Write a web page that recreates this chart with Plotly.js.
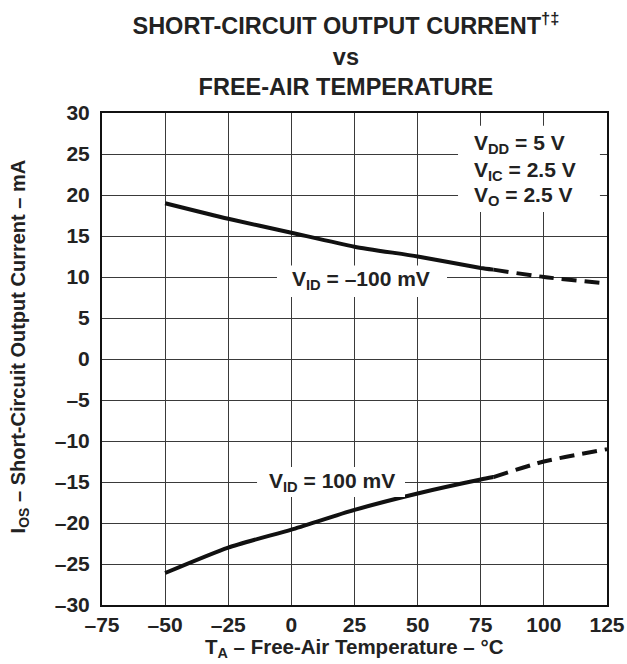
<!DOCTYPE html>
<html>
<head>
<meta charset="utf-8">
<script src="https://cdn.plot.ly/plotly-3.0.1.min.js"></script>
<style>html,body{margin:0;padding:0;background:#fff;}#chart{width:627px;height:664px;}</style>
</head>
<body>
<div id="chart"></div>
<script>
// Temperatures (°C)
var tempSolid = [-50, -25, 0, 25, 50, 75, 80];
var tempDashed = [80, 100, 125];
// I_OS (mA) for V_ID = -100 mV
var iosNegSolid = [19.0, 17.1, 15.4, 13.7, 12.5, 11.1, 10.9];
var iosNegDashed = [10.9, 10.0, 9.2];
// I_OS (mA) for V_ID = 100 mV
var iosPosSolid = [-26.1, -23.0, -20.8, -18.4, -16.4, -14.7, -14.4];
var iosPosDashed = [-14.4, -12.5, -11.0];

var xTickVals = [-75, -50, -25, 0, 25, 50, 75, 100, 125];
var xTickText = ['–75', '–50', '–25', '0', '25', '50', '75', '100', '125'];
var yTickVals = [-30, -25, -20, -15, -10, -5, 0, 5, 10, 15, 20, 25, 30];
var yTickText = ['–30', '–25', '–20', '–15', '–10', '–5', '0', '5', '10', '15', '20', '25', '30'];

var FONT = 'Liberation Sans, Arial, sans-serif';
var FS = 21;
function line(x, y, dash) {
  return {x: x, y: y, mode: 'lines', type: 'scatter', hoverinfo: 'skip',
    line: {color: '#111', width: 4, dash: dash, shape: 'spline', smoothing: 0.6}};
}
var data = [
  line(tempSolid, iosNegSolid, 'solid'),
  line(tempDashed, iosNegDashed, '15px,8px'),
  line(tempSolid, iosPosSolid, 'solid'),
  line(tempDashed, iosPosDashed, '15px,8px')
];

var axisCommon = {
  showgrid: true, gridcolor: '#3a3a3a', gridwidth: 1,
  showline: true, linecolor: '#111', linewidth: 2, mirror: true,
  zeroline: false, ticks: '', tickmode: 'array',
  tickfont: {family: FONT, size: FS, color: '#222', weight: 'bold'},
  fixedrange: true
};
function ann(text, x, y, xanchor, angle, size, yanchor) {
  return {text: text, xref: 'paper', yref: 'paper', x: x, y: y,
    xanchor: xanchor, yanchor: yanchor || 'middle', showarrow: false, textangle: angle || 0,
    font: {family: FONT, size: size || FS, color: '#222', weight: 'bold'}};
}

var layout = {
  width: 627, height: 664,
  margin: {l: 102, r: 20, t: 113, b: 59},
  paper_bgcolor: '#fff', plot_bgcolor: '#fff',
  showlegend: false,
  font: {family: FONT, color: '#222'},
  title: {
    text: 'SHORT-CIRCUIT OUTPUT CURRENT<sup>†‡</sup><br>vs<br>FREE-AIR TEMPERATURE',
    font: {family: FONT, size: 23.5, color: '#222', weight: 'bold'},
    x: 0.483, xref: 'paper', xanchor: 'center',
    y: 0.9488, yref: 'container', yanchor: 'middle'
  },
  xaxis: Object.assign({}, axisCommon, {
    range: [-75, 125], tickvals: xTickVals, ticktext: xTickText,
    ticklabelstandoff: 0
  }),
  yaxis: Object.assign({}, axisCommon, {
    range: [-30, 30], tickvals: yTickVals, ticktext: yTickText,
    ticklabelstandoff: 6
  }),
  shapes: [
    {type: 'rect', xref: 'paper', yref: 'paper', x0: 0.705, x1: 0.986, y0: 0.799, y1: 0.974,
      fillcolor: '#fff', line: {width: 0}, layer: 'above'},
    {type: 'rect', xref: 'paper', yref: 'paper', x0: 0.3465, x1: 0.6832, y0: 0.626, y1: 0.690,
      fillcolor: '#fff', line: {width: 0}, layer: 'above'},
    {type: 'rect', xref: 'paper', yref: 'paper', x0: 0.307, x1: 0.600, y0: 0.2195, y1: 0.2805,
      fillcolor: '#fff', line: {width: 0}, layer: 'above'}
  ],
  annotations: [
    ann('I<sub>OS</sub> – Short-Circuit Output Current – mA', -0.164, 0.526, 'center', -90, 20),
    ann('T<sub>A</sub> – Free-Air Temperature – °C', 0.5, -0.1179, 'center', 0, 20.5, 'bottom'),
    ann('V<sub>DD</sub> = 5 V', 0.7327, 0.937, 'left'),
    ann('V<sub>IC</sub> = 2.5 V', 0.7327, 0.883, 'left'),
    ann('V<sub>O</sub> = 2.5 V', 0.7327, 0.831, 'left'),
    ann('V<sub>ID</sub> = –100 mV', 0.512, 0.660, 'center'),
    ann('V<sub>ID</sub> = 100 mV', 0.4564, 0.251, 'center')
  ]
};

Plotly.newPlot('chart', data, layout, {staticPlot: true, displayModeBar: false});
</script>
</body>
</html>
